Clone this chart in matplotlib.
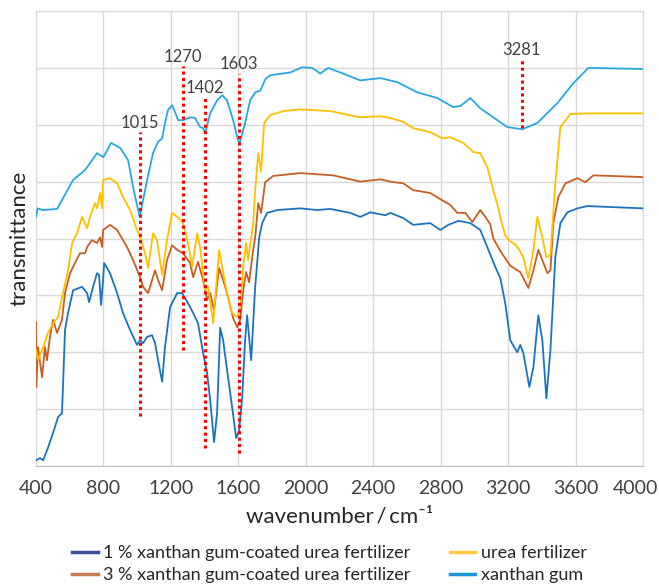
import matplotlib
matplotlib.use('Agg')
import matplotlib.pyplot as plt
import matplotlib.transforms as mtransforms
from matplotlib.lines import Line2D

plt.rcParams['font.family'] = ['Lato', 'DejaVu Sans']

# FTIR spectra, y in arbitrary grid units (0..8)
wn_xg = [400, 410, 440, 525, 620, 690, 762, 800, 845, 900, 946, 976, 1015, 1059, 1094, 1124, 1148,
         1165, 1183, 1207, 1225, 1243, 1272, 1314, 1343, 1373, 1391, 1403, 1433, 1474, 1504, 1533,
         1569, 1599, 1608, 1640, 1670, 1700, 1730, 1760, 1789, 1908, 1978, 2038, 2086, 2133, 2204,
         2323, 2382, 2442, 2542, 2661, 2780, 2875, 2917, 2976, 3035, 3136, 3195, 3284, 3373, 3492,
         3587, 3676, 4000]
t_xg = [4.38, 4.53, 4.5, 4.52, 5.03, 5.2, 5.5, 5.43, 5.68, 5.59, 5.38, 4.9, 4.38, 5.03, 5.5, 5.7, 5.76,
        6.03, 6.26, 6.34, 6.22, 6.08, 6.08, 6.13, 6.12, 5.96, 5.94, 5.85, 6.2, 6.43, 6.52, 6.43,
        6.08, 5.72, 5.68, 6.03, 6.43, 6.57, 6.6, 6.8, 6.87, 6.92, 7.01, 7.0, 6.9, 7.0, 6.92,
        6.78, 6.8, 6.82, 6.75, 6.57, 6.47, 6.31, 6.33, 6.47, 6.29, 6.08, 5.96, 5.92, 6.03, 6.38,
        6.73, 7.0, 6.98]

wn_urea = [400, 412, 442, 471, 501, 531, 560, 590, 614, 643, 673, 703, 720, 750, 762, 780, 792, 798,
           839, 881, 916, 958, 999, 1017, 1047, 1065, 1094, 1118, 1148, 1177, 1207, 1237, 1272, 1302,
           1326, 1356, 1373, 1403, 1421, 1451, 1486, 1504, 1533, 1563, 1593, 1611, 1629, 1646, 1658,
           1688, 1700, 1718, 1735, 1753, 1789, 1866, 1967, 2145, 2323, 2442, 2501, 2578, 2637, 2738,
           2810, 2857, 2934, 2994, 3035, 3077, 3112, 3136, 3160, 3183, 3213, 3240, 3260, 3290, 3320,
           3350, 3373, 3403, 3427, 3451, 3480, 3510, 3569, 3688, 4000]
t_urea = [2.04, 1.86, 2.09, 2.34, 2.51, 2.62, 3.04, 3.44, 3.92, 4.09, 4.38, 4.18, 4.38, 4.62, 4.53, 4.8, 4.53, 5.03,
          5.06, 4.97, 4.73, 4.5, 4.15, 4.02, 3.74, 3.48, 4.09, 3.97, 3.36, 3.97, 4.45, 4.38, 4.27, 3.92,
          3.5, 4.09, 3.85, 3.09, 3.15, 2.51, 3.8, 3.5, 3.04, 2.69, 2.62, 2.79, 3.5, 3.92, 3.62,
          4.27, 4.85, 5.5, 5.17, 6.03, 6.17, 6.24, 6.27, 6.24, 6.13, 6.15, 6.12, 6.05, 5.94, 5.87,
          5.76, 5.78, 5.68, 5.52, 5.5, 5.25, 4.85, 4.6, 4.3, 4.05, 3.95, 3.9, 3.83, 3.67, 3.3,
          3.8, 4.38, 4.02, 3.67, 3.71, 4.97, 5.96, 6.19, 6.2, 6.2]

wn_3 = [400, 402, 412, 436, 453, 465, 483, 501, 525, 554, 572, 602, 631, 661, 691, 703, 732, 762, 780,
        792, 798, 839, 881, 940, 976, 1017, 1035, 1065, 1106, 1124, 1148, 1177, 1207, 1237, 1272, 1314,
        1332, 1361, 1391, 1415, 1433, 1456, 1486, 1510, 1539, 1569, 1593, 1611, 1629, 1646, 1664, 1688,
        1700, 1718, 1735, 1759, 1807, 1967, 2163, 2323, 2442, 2501, 2578, 2637, 2738, 2810, 2857, 2899,
        2946, 2988, 3035, 3065, 3094, 3112, 3154, 3213, 3272, 3320, 3350, 3379, 3403, 3433, 3451, 3468,
        3498, 3540, 3611, 3658, 3706, 4000]
t_3 = [2.53, 1.39, 2.09, 1.56, 2.09, 1.86, 2.27, 2.57, 2.34, 2.57, 3.04, 3.39, 3.57, 3.74, 3.74, 3.85, 3.97, 3.92, 4.02,
       3.85, 4.15, 4.24, 4.15, 3.85, 3.62, 3.32, 3.15, 3.04, 3.44, 3.27, 3.09, 3.62, 3.88, 3.8, 3.74, 3.57,
       3.32, 3.59, 3.27, 2.92, 3.04, 2.74, 3.48, 3.27, 2.97, 2.6, 2.44, 2.57, 3.09, 3.41, 3.23, 3.8,
       4.02, 4.62, 4.45, 4.99, 5.1, 5.15, 5.11, 5.0, 5.04, 5.0, 4.97, 4.85, 4.8, 4.67, 4.59, 4.45,
       4.45, 4.29, 4.5, 4.38, 4.25, 4.0, 3.78, 3.52, 3.41, 3.13, 3.44, 3.8, 3.62, 3.39, 3.44, 4.27,
       4.73, 4.97, 5.06, 4.99, 5.11, 5.08]

wn_1 = [400, 424, 442, 471, 501, 531, 554, 560, 572, 590, 620, 673, 703, 715, 738, 762, 774, 786, 798, 804,
        839, 881, 916, 958, 999, 1017, 1035, 1059, 1088, 1106, 1124, 1148, 1165, 1195, 1237, 1266, 1302,
        1332, 1361, 1391, 1415, 1433, 1456, 1474, 1492, 1510, 1533, 1563, 1587, 1605, 1623, 1640, 1652,
        1676, 1700, 1724, 1741, 1771, 1830, 1967, 2068, 2145, 2264, 2323, 2382, 2471, 2501, 2578, 2637,
        2738, 2798, 2845, 2905, 2976, 3035, 3083, 3124, 3154, 3183, 3213, 3254, 3272, 3290, 3326, 3350,
        3379, 3403, 3427, 3451, 3480, 3510, 3551, 3611, 3670, 4000]
t_1 = [0.1, 0.14, 0.1, 0.32, 0.58, 0.86, 0.93, 1.39, 2.39, 2.69, 3.09, 3.15, 3.04, 2.88, 3.15, 3.39, 3.36, 2.83, 3.27, 3.57,
       3.39, 3.04, 2.69, 2.39, 2.13, 2.21, 2.16, 2.27, 2.3, 2.16, 1.86, 1.48, 2.09, 2.79, 3.04, 3.04, 2.86,
       2.69, 2.51, 1.99, 1.63, 1.16, 0.42, 0.93, 2.43, 2.21, 1.69, 1.04, 0.49, 0.63, 1.21, 2.21, 2.65,
       1.86, 3.15, 4.02, 4.27, 4.45, 4.5, 4.53, 4.5, 4.52, 4.45, 4.38, 4.46, 4.41, 4.45, 4.36, 4.24,
       4.27, 4.15, 4.24, 4.31, 4.27, 4.15, 3.8, 3.5, 3.3, 2.86, 2.21, 2.0, 2.13, 1.99, 1.39, 1.74,
       2.65, 2.21, 1.19, 2.04, 3.67, 4.27, 4.46, 4.53, 4.57, 4.53]

peaks = [1015, 1270, 1402, 1603, 3281]
peak_top = [5.87, 7.03, 6.49, 6.9, 7.15]
peak_bottom = [0.88, 2.04, 0.32, 0.23, 5.94]

labels = ['1 % xanthan gum-coated urea fertilizer', '3 % xanthan gum-coated urea fertilizer',
          'urea fertilizer', 'xanthan gum']
colors = ['#1d72bf', '#c55f26', '#ffc000', '#29a8e0']
legend_colors = ['#3b4ea0', '#c87b50', '#ffc640', '#1c93d3']
xticks = [400, 800, 1200, 1600, 2000, 2400, 2800, 3200, 3600, 4000]

fig = plt.figure(figsize=(6.59, 5.85), dpi=100)
ax = fig.add_axes([36 / 659, 1 - 466 / 585, 607 / 659, 455 / 585])

series = [(wn_1, t_1), (wn_3, t_3), (wn_urea, t_urea), (wn_xg, t_xg)]
for (x, y), c in zip(series, colors):
    ax.plot(x, y, color=c, lw=1.3, zorder=3)

for p, top, bot in zip(peaks, peak_top, peak_bottom):
    ax.plot([p, p], [bot, top], color='#ff0000', lw=2.2, ls=(0, (1, 1.1)), zorder=4)
    ax.text(p, top + 0.02, str(p), ha='center', va='bottom', fontsize=12, color='#404040', zorder=5)

ax.set_xlim(400, 4000)
ax.set_ylim(0, 8)
ax.set_xticks(xticks)
ax.set_yticks(range(0, 9))
ax.set_yticklabels([])
ax.grid(True, color='#d9d9d9', lw=1)
ax.set_axisbelow(True)
ax.tick_params(length=0, labelsize=14, labelcolor='#404040', pad=10)
for s in ax.spines.values():
    s.set_color('#d9d9d9')
ax.spines['bottom'].set_color('#bfbfbf')

# keep the last tick label inside the figure, like the original
last = ax.get_xticklabels()[-1]
last.set_transform(last.get_transform() + mtransforms.ScaledTranslation(-8 / 100, 0, fig.dpi_scale_trans))

ax.set_xlabel('wavenumber\u2009/\u2009cm\u207b\u00b9', fontsize=16, color='#262626', labelpad=7)
ax.set_ylabel('transmittance', fontsize=16, color='#262626', va='center')
ax.yaxis.set_label_coords(-16 / 607, 0.5)

handles = [Line2D([], [], color=c, lw=2.5) for c in legend_colors]
fig.legend(handles, labels, loc='upper center', bbox_to_anchor=(0.5, 1 - 529 / 585), ncol=2,
           frameon=False, fontsize=13, handlelength=1.4, handletextpad=0.3, columnspacing=2.2,
           labelspacing=0.34, labelcolor='#262626')

fig.savefig('out.png', dpi=100)
